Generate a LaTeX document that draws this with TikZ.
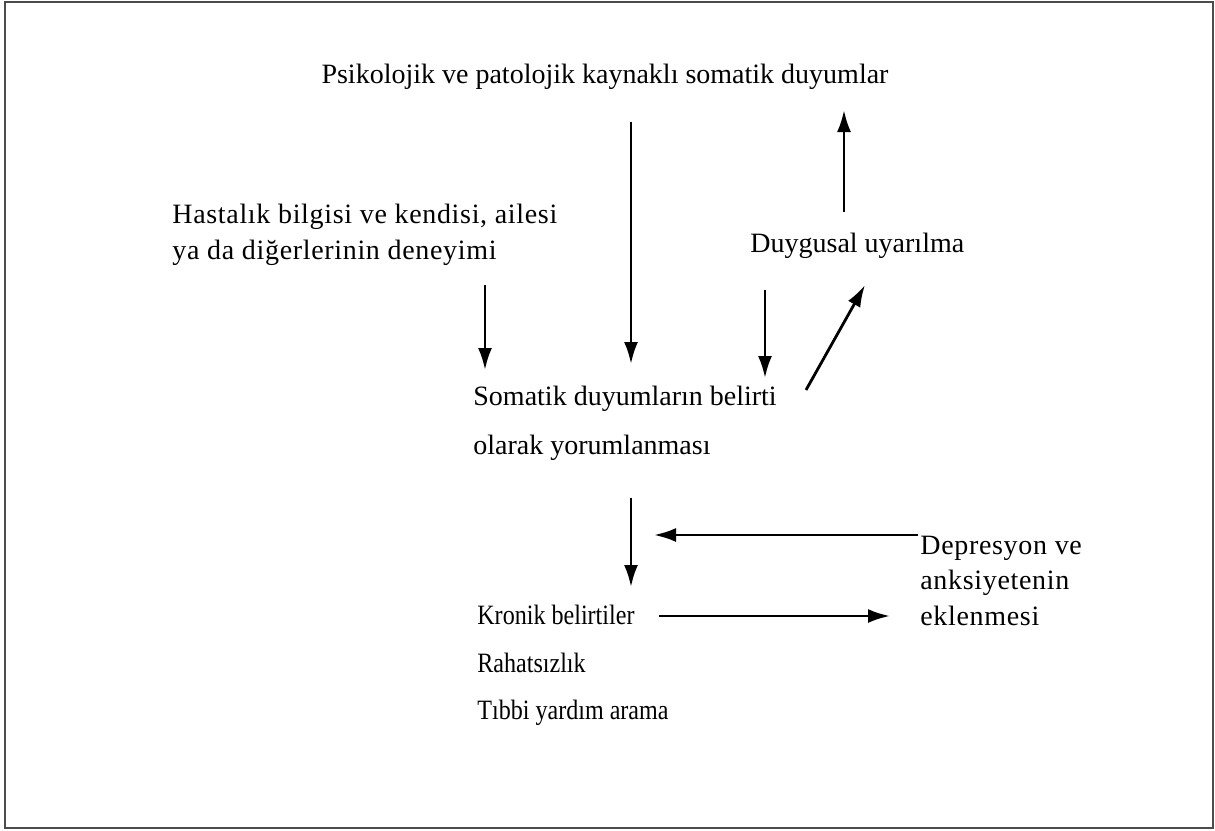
\documentclass[tikz,border=0pt]{standalone}
\usepackage{fontspec}
\setmainfont{Liberation Serif}
\newfontfamily\widefont[LetterSpace=2.4]{Liberation Serif}
\usetikzlibrary{arrows.meta}
\tikzset{
  >={Latex[length=11pt,width=7pt]},
  lbl/.style={anchor=base west,inner sep=0pt,font=\fontsize{14}{17}\selectfont},
  widelbl/.style={lbl,font=\widefont\fontsize{14}{17.6}\selectfont},
  narrowlbl/.style={lbl,xscale=0.86},
  flow/.style={->,line width=1.4pt},
  frame/.style={draw=black!70,line width=0.8pt},
}
\begin{document}
\begin{tikzpicture}[x=0.5pt,y=-0.5pt]
  \useasboundingbox (0,0) rectangle (1215,830);
  \draw[frame] (5,2) rectangle (1213,828);
  % texts
  \node[lbl,anchor=base] (src) at (605,83) {Psikolojik ve patolojik kaynaklı somatik duyumlar};
  \node[widelbl,align=left,anchor=north west] (know) at (172,204) {Hastalık bilgisi ve kendisi, ailesi\\ya da diğerlerinin deneyimi};
  \node[lbl] (emo) at (750,252) {Duygusal uyarılma};
  \node[lbl] (interp) at (473,405) {Somatik duyumların belirti};
  \node[lbl] (interp2) at (473,454) {olarak yorumlanması};
  \node[narrowlbl] (chron) at (477,624) {Kronik belirtiler};
  \node[narrowlbl] (discomf) at (477,672) {Rahatsızlık};
  \node[narrowlbl] (help) at (477,719) {Tıbbi yardım arama};
  \node[widelbl,align=left,anchor=north west] (dep) at (920,536) {Depresyon ve\\anksiyetenin\\eklenmesi};
  % arrow ends
  \coordinate (a1) at (631,122); \coordinate (b1) at (631,364);
  \coordinate (a2) at (844,212); \coordinate (b2) at (844,110);
  \coordinate (a3) at (485,285); \coordinate (b3) at (485,370);
  \coordinate (a4) at (765,290); \coordinate (b4) at (765,378);
  \coordinate (a5) at (806,390); \coordinate (b5) at (865,285);
  \coordinate (a6) at (631,498); \coordinate (b6) at (631,587);
  \coordinate (a7) at (918,535); \coordinate (b7) at (654,535);
  \coordinate (a8) at (659,616); \coordinate (b8) at (890,616);
  \foreach \i in {1,...,8}
    \draw[flow] (a\i) -- (b\i);
\end{tikzpicture}
\end{document}
